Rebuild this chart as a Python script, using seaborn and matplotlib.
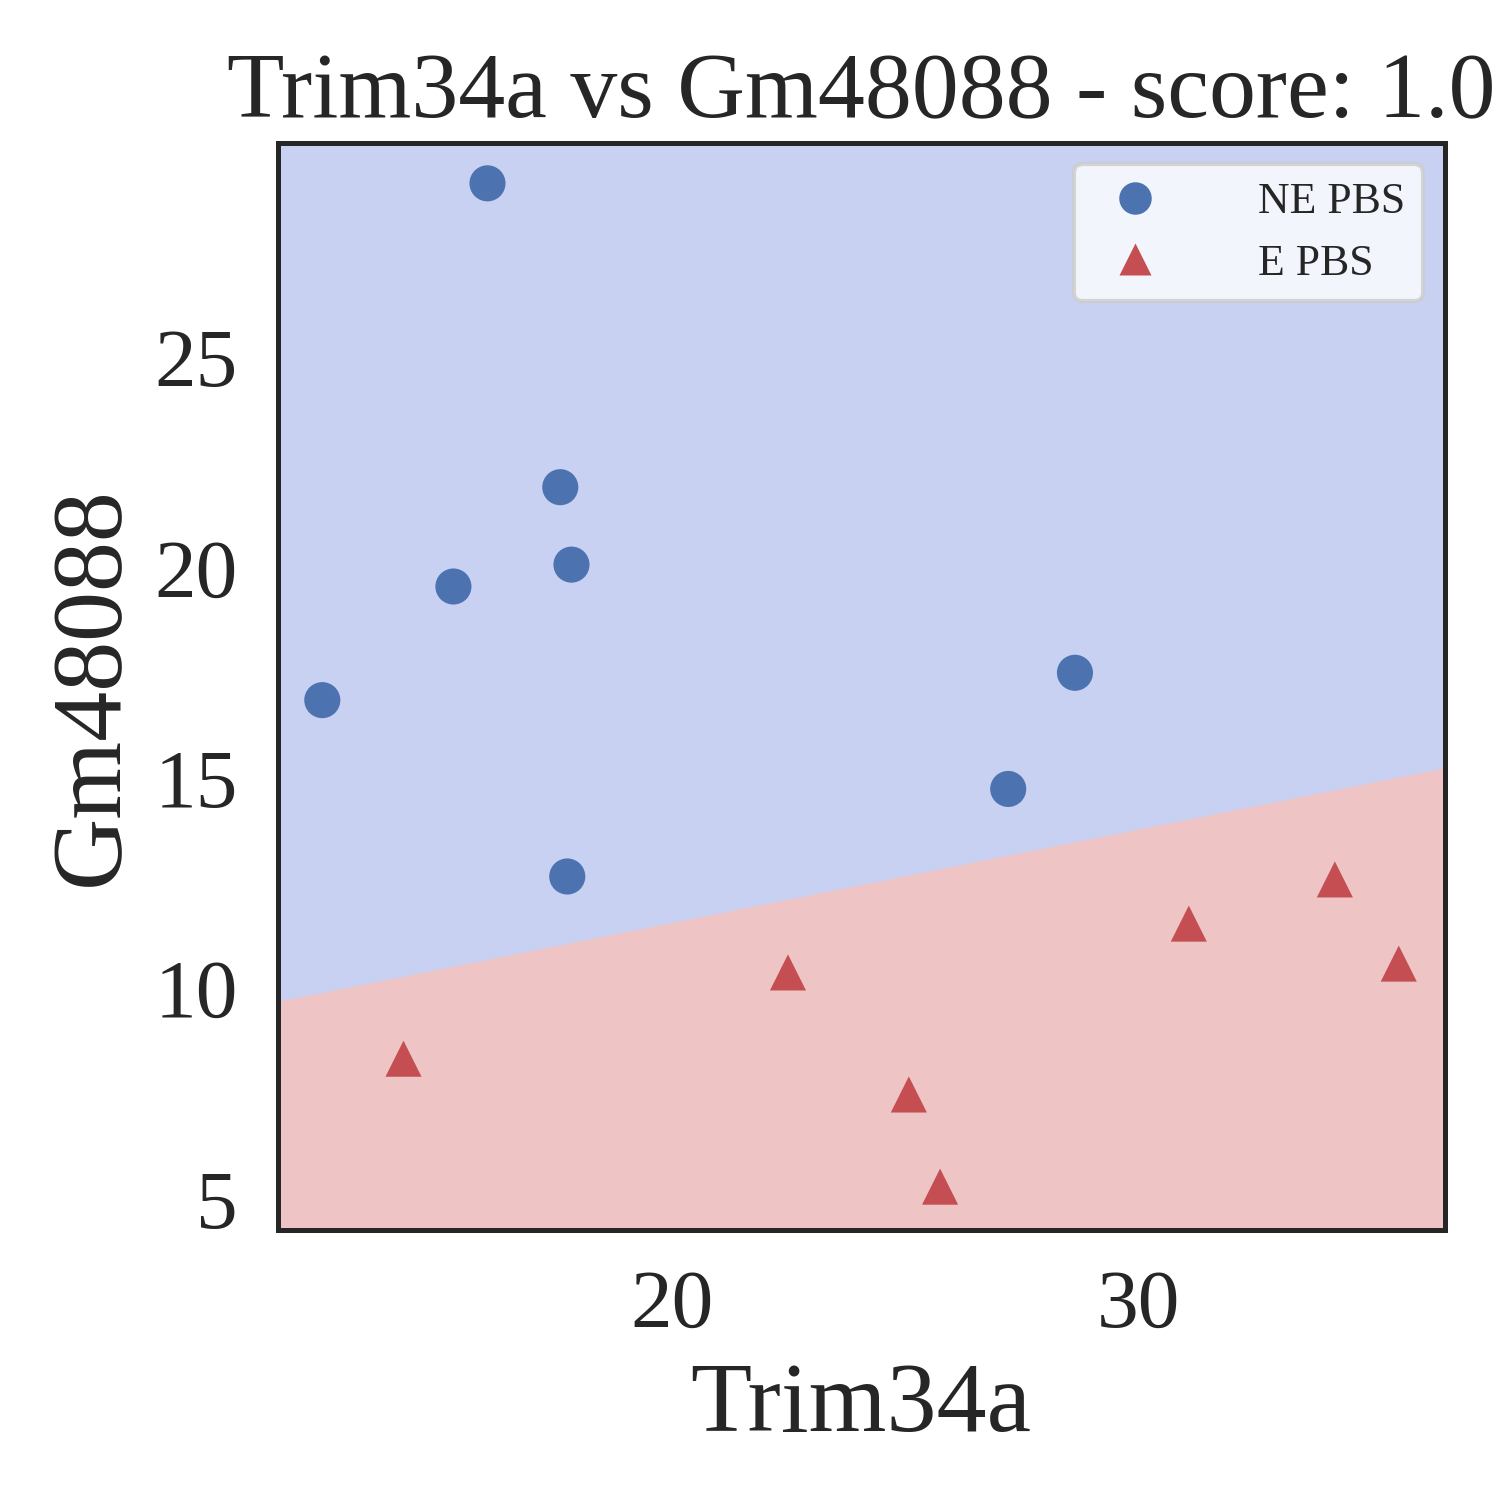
import numpy as np
import pandas as pd
import matplotlib
matplotlib.use("Agg")
import matplotlib.pyplot as plt
import seaborn as sns

# data
ne_x = [16.04, 17.6, 17.84, 15.31, 12.5, 28.63, 27.2, 17.75]
ne_y = [29.13, 21.91, 20.07, 19.55, 16.85, 17.5, 14.74, 12.66]
e_x = [14.24, 22.48, 25.07, 25.74, 31.07, 34.2, 35.57]
e_y = [8.33, 10.38, 7.48, 5.29, 11.54, 12.59, 10.59]
line_x = [11.54, 36.55]
line_y = [9.64, 15.19]

df = pd.DataFrame({
    "Trim34a": ne_x + e_x,
    "Gm48088": ne_y + e_y,
    "group": ["NE PBS"] * len(ne_x) + ["E PBS"] * len(e_x),
})

sns.set_theme(style="white")
plt.rcParams["font.family"] = ["Liberation Serif", "DejaVu Serif"]

fig, ax = plt.subplots(figsize=(5, 5), dpi=300)
xmin, xmax = 11.54, 36.55
ymin, ymax = 4.26, 30.1
ax.fill_between(line_x, line_y, ymax, color="#c8d1f2", zorder=0)
ax.fill_between(line_x, ymin, line_y, color="#efc4c4", zorder=0)

sns.scatterplot(data=df, x="Trim34a", y="Gm48088", hue="group", style="group",
                markers={"NE PBS": "o", "E PBS": "^"},
                palette={"NE PBS": "#4c72b0", "E PBS": "#c44e52"},
                s=75, edgecolor="none", ax=ax)
ax.set_xlim(xmin, xmax)
ax.set_ylim(ymin, ymax)
ax.set_xticks([20, 30])
ax.set_yticks([5, 10, 15, 20, 25])
ax.tick_params(labelsize=20)
ax.set_xlabel("Trim34a", fontsize=24)
ax.set_ylabel("Gm48088", fontsize=24)
ax.set_title("Trim34a vs Gm48088 - score: 1.0", fontsize=22.5)
for s in ax.spines.values():
    s.set_color("#262626")
    s.set_linewidth(1.2)
leg = ax.legend(loc="upper right", fontsize=10.5, markerscale=0.9, handletextpad=1.8)
fig.subplots_adjust(left=0.185, right=0.963, top=0.905, bottom=0.18)
fig.savefig("out.png", dpi=300)
